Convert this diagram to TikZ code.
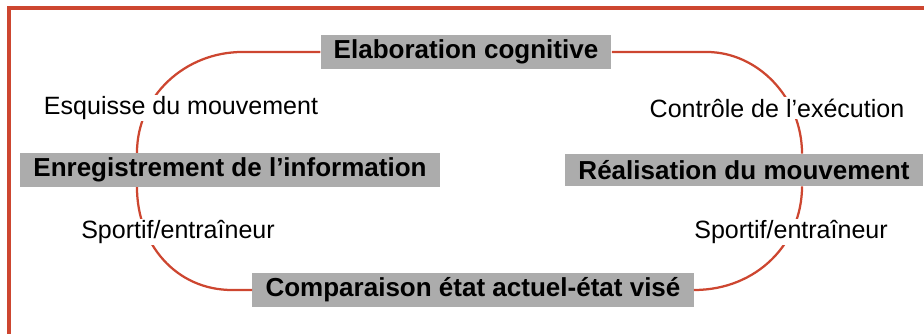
\documentclass[tikz,border=0pt]{standalone}
\usepackage{fontspec}
\setmainfont{Liberation Sans}
\usepackage[svgnames]{xcolor}
\usepackage{tikz}
\definecolor{waku}{RGB}{205,70,48}
\definecolor{haiiro}{RGB}{172,172,172}
\tikzset{
  stage/.style={fill=haiiro, font=\fontsize{18.5}{20}\selectfont\bfseries, inner xsep=0.33cm, minimum height=0.8cm},
  memo/.style={fill=white, font=\fontsize{17.8}{20}\selectfont, inner sep=1pt},
  kyokusen/.style={waku, line width=1.6pt}
}
\begin{document}
\begin{tikzpicture}[x=0.025cm, y=-0.025cm]
\useasboundingbox (0,0) rectangle (924,334);
%%枠（左と上だけ見える）
\draw [waku, line width=2.2pt] (9,345) -- (9,8) -- (935,8);

%%四つの段階（灰色の箱）
\node [stage] (elab)  at (466,52)  {Elaboration cognitive};
\node [stage] (enreg) at (230,170) {Enregistrement de l’information};
\node [stage] (real)  at (744,170) {Réalisation du mouvement};
\node [stage] (comp)  at (473,290) {Comparaison état actuel-état visé};

%%箱を結ぶ赤い曲線（四分の一の楕円）
\draw [kyokusen] (elab.west) -- ++(-78,0) .. controls +(-57,0) and +(0,-57) .. ([xshift=-2.325cm]enreg.north);
\draw [kyokusen] ([xshift=-2.325cm]enreg.south) .. controls +(0,57) and +(-56,0) .. ([xshift=-0.5cm]comp.west) -- (comp.west);
\draw [kyokusen] (elab.east) -- ++(95,0) .. controls +(51,0) and +(0,-56) .. ([xshift=1.45cm]real.north);
\draw [kyokusen] ([xshift=1.45cm]real.south) .. controls +(0,57) and +(63,0) .. (comp.east);

%%曲線の上に白地で置く説明
\node [memo] (esq)  at (181,108) {Esquisse du mouvement};
\node [memo] (ctrl) at (777,108) {Contrôle de l’exécution};
\node [memo] (spg)  at (178,232) {Sportif/entraîneur};
\node [memo] (spd)  at (791,232) {Sportif/entraîneur};
\end{tikzpicture}
\end{document}
